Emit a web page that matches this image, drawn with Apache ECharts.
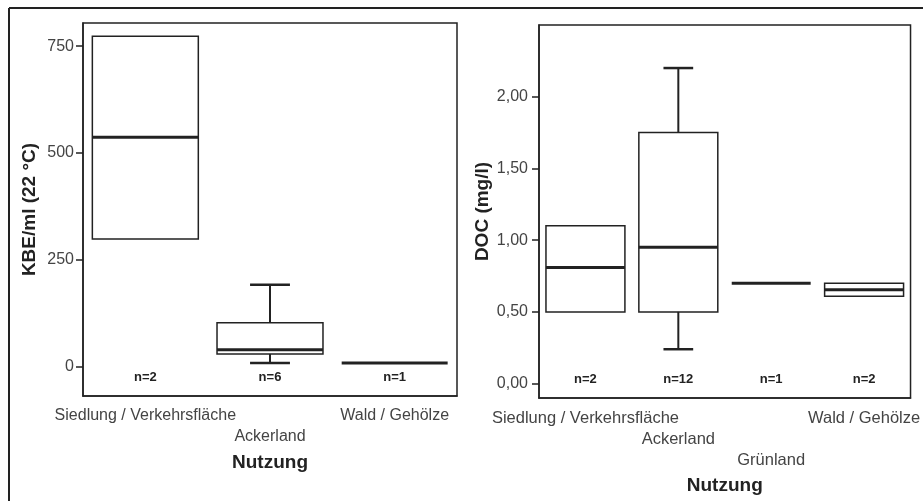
<!DOCTYPE html>
<html>
<head>
<meta charset="utf-8">
<script src="https://cdn.jsdelivr.net/npm/echarts@6/dist/echarts.min.js"></script>
<style>
  html, body { margin: 0; padding: 0; background: #fff; }
  #chart { width: 923px; height: 501px; }
</style>
</head>
<body>
<div id="chart"></div>
<script>
// KBE/ml (22 °C) per Nutzung
const kbeCategories = ['Siedlung / Verkehrsfläche', 'Ackerland', 'Wald / Gehölze'];
const kbeMin    = [299, 9, 9];
const kbeQ1     = [299, 30, 9];
const kbeMedian = [537, 40, 9];
const kbeQ3     = [773, 103, 9];
const kbeMax    = [773, 192, 9];
const kbeN      = [2, 6, 1];
const kbeTicks  = [0, 250, 500, 750];

// DOC (mg/l) per Nutzung
const docCategories = ['Siedlung / Verkehrsfläche', 'Ackerland', 'Grünland', 'Wald / Gehölze'];
const docMin    = [0.50, 0.24, 0.70, 0.61];
const docQ1     = [0.50, 0.50, 0.70, 0.61];
const docMedian = [0.81, 0.95, 0.70, 0.655];
const docQ3     = [1.10, 1.75, 0.70, 0.70];
const docMax    = [1.10, 2.20, 0.70, 0.70];
const docN      = [2, 12, 1, 2];
const docTicks  = [0, 0.5, 1, 1.5, 2];

const FONT = 'Liberation Sans, Arial, sans-serif';
const INK = '#222';

const chart = echarts.init(document.getElementById('chart'), null, { renderer: 'canvas' });

const toRows = (mins, q1, med, q3, max, n) =>
  mins.map((v, i) => [i, v, q1[i], med[i], q3[i], max[i], n[i]]);

// SPSS style box: thin box, thick median, whiskers with short caps, n label at bottom
function renderBox(params, api) {
  const i = api.value(0);
  const band = api.size([1, 0])[0];
  const bw = band * 0.85;
  const cw = band * 0.32;
  const cx = api.coord([i, 0])[0];
  const y = k => api.coord([i, api.value(k)])[1];
  const yMin = y(1), yQ1 = y(2), yMed = y(3), yQ3 = y(4), yMax = y(5);
  const cs = params.coordSys;
  const kids = [];
  const line = (x1, y1, x2, y2, w) => ({
    type: 'line', shape: { x1, y1, x2, y2 },
    style: { stroke: INK, lineWidth: w }
  });
  if (yQ1 - yQ3 > 0.5) {
    kids.push({
      type: 'rect', shape: { x: cx - bw / 2, y: yQ3, width: bw, height: yQ1 - yQ3 },
      style: { fill: 'none', stroke: INK, lineWidth: 1.5 }
    });
  }
  if (yQ3 - yMax > 0.5) {
    kids.push(line(cx, yQ3, cx, yMax, 2));
    kids.push(line(cx - cw / 2, yMax, cx + cw / 2, yMax, 2.5));
  }
  if (yMin - yQ1 > 0.5) {
    kids.push(line(cx, yQ1, cx, yMin, 2));
    kids.push(line(cx - cw / 2, yMin, cx + cw / 2, yMin, 2.5));
  }
  kids.push(line(cx - bw / 2, yMed, cx + bw / 2, yMed, 3));
  kids.push({
    type: 'text',
    style: {
      text: 'n=' + api.value(6), x: cx, y: cs.y + cs.height - 19,
      align: 'center', verticalAlign: 'middle',
      fontFamily: FONT, fontSize: 13, fontWeight: 'bold', fill: INK
    }
  });
  return { type: 'group', children: kids };
}

const xAxisBase = (gridIndex, data, rows, nameGap, margin, fontSize) => ({
  type: 'category', gridIndex, data,
  axisLine: { onZero: false, lineStyle: { color: INK, width: 1.5 } },
  axisTick: { alignWithLabel: true, length: 6, lineStyle: { color: INK, width: 2 } },
  axisLabel: {
    interval: 0, margin, fontFamily: FONT, fontSize, lineHeight: 21, color: '#444',
    formatter: (v, idx) => '\n'.repeat(rows[idx]) + v
  },
  name: 'Nutzung', nameLocation: 'middle', nameGap,
  nameTextStyle: { fontFamily: FONT, fontSize: 19, fontWeight: 'bold', color: INK }
});

const yAxisBase = (gridIndex, min, max, ticks, name, nameGap, margin, fmt) => ({
  type: 'value', gridIndex, min, max,
  axisLine: { show: true, lineStyle: { color: INK, width: 1.5 } },
  axisTick: { show: true, length: 7, customValues: ticks, lineStyle: { color: INK, width: 1.5 } },
  axisLabel: { customValues: ticks, margin, fontFamily: FONT, fontSize: 16, color: '#444', formatter: fmt },
  splitLine: { show: false },
  name, nameLocation: 'middle', nameRotate: 90, nameGap,
  nameTextStyle: { fontFamily: FONT, fontSize: 19, fontWeight: 'bold', color: INK }
});

const option = {
  backgroundColor: '#fff',
  animation: false,
  grid: [
    { left: 83, top: 23, width: 374, height: 373, show: true, borderColor: INK, borderWidth: 1.5 },
    { left: 539, top: 25, width: 373, height: 373, show: true, borderColor: INK, borderWidth: 1.5 }
  ],
  xAxis: [
    xAxisBase(0, kbeCategories, [0, 1, 0], 57, 9, 16),
    xAxisBase(1, docCategories, [0, 1, 2, 0], 78, 10, 16.5)
  ],
  yAxis: [
    yAxisBase(0, -68, 804, kbeTicks, 'KBE/ml (22 °C)', 44, 9, v => String(v)),
    yAxisBase(1, -0.1, 2.5, docTicks, 'DOC (mg/l)', 47, 11, v => v.toFixed(2).replace('.', ','))
  ],
  series: [
    {
      type: 'custom', xAxisIndex: 0, yAxisIndex: 0,
      data: toRows(kbeMin, kbeQ1, kbeMedian, kbeQ3, kbeMax, kbeN),
      encode: { x: 0, y: [1, 2, 3, 4, 5] },
      renderItem: renderBox
    },
    {
      type: 'custom', xAxisIndex: 1, yAxisIndex: 1,
      data: toRows(docMin, docQ1, docMedian, docQ3, docMax, docN),
      encode: { x: 0, y: [1, 2, 3, 4, 5] },
      renderItem: renderBox
    }
  ],
  // outer figure frame (top and left edges)
  graphic: [
    { type: 'line', shape: { x1: 9, y1: 8, x2: 923, y2: 8 }, style: { stroke: INK, lineWidth: 2 } },
    { type: 'line', shape: { x1: 9, y1: 8, x2: 9, y2: 501 }, style: { stroke: INK, lineWidth: 2 } }
  ]
};

chart.setOption(option);
</script>
</body>
</html>
